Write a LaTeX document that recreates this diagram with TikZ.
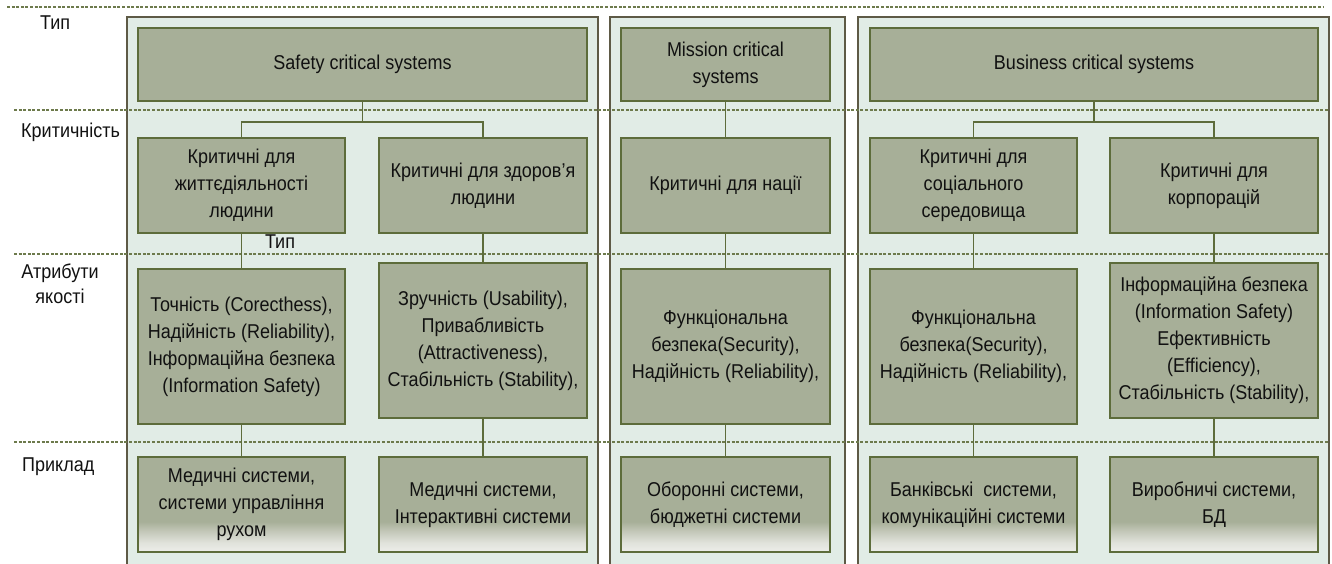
\documentclass[tikz,border=0pt]{standalone}
\usepackage{fontspec}
\setmainfont{Liberation Sans}[FakeStretch=0.9]
\usetikzlibrary{calc}

\definecolor{panelfill}{HTML}{E1ECE6}
\definecolor{paneledge}{HTML}{5E5A46}
\definecolor{boxfill}{HTML}{A7AF98}
\definecolor{boxedge}{HTML}{5D6C3B}
\definecolor{linkcol}{HTML}{5D6C3B}
\definecolor{rulecol}{HTML}{6D7A4C}
\definecolor{exlight}{HTML}{EDEEEA}
\definecolor{exsoft}{HTML}{E0E2DB}
\definecolor{exmid}{HTML}{C3C7B8}
\definecolor{inktext}{HTML}{111111}

% light fade along the lower edge of the example boxes
\pgfdeclareverticalshading{exgrad}{100bp}{color(0bp)=(exlight); color(25bp)=(exlight); color(30bp)=(exsoft); color(36bp)=(exmid); color(41bp)=(boxfill); color(100bp)=(boxfill)}

\tikzset{
  panel/.style={draw=paneledge, fill=panelfill, line width=2pt},
  rowrule/.style={draw=rulecol, line width=1.2pt, dash pattern=on 3pt off 1.6pt},
  box/.style={draw=boxedge, fill=boxfill, line width=2pt, inner sep=0pt,
    align=center, text=inktext, font=\fontsize{20}{27}\selectfont},
  exbox/.style={box, shading=exgrad},
  link/.style={draw=linkcol, line width=1.3pt},
  rowlabel/.style={text=inktext, font=\fontsize{20}{25}\selectfont, inner sep=0pt, align=center},
}

\begin{document}
\begin{tikzpicture}[x=1pt, y=-1pt]
\useasboundingbox (0,0) rectangle (1332,563);

% column panels
\path[panel] (127,17) rectangle (598,575);
\path[panel] (610,17) rectangle (845,575);
\path[panel] (858,17) rectangle (1329,575);

% row separators
\path[rowrule] (7,7) -- (1323,7);
\path[rowrule] (14,110) -- (1329,110);
\path[rowrule] (14,254) -- (1329,254);
\path[rowrule] (14,442) -- (1329,442);

% row labels
\node[rowlabel, anchor=west] (lType) at (40,23) {Тип};
\node[rowlabel, anchor=west] (lCrit) at (21,132) {Критичність};
\node[rowlabel] (lAttr) at (60,284) {Атрибути\\якості};
\node[rowlabel, anchor=west] (lEx) at (22,467) {Приклад};

% system types
\node[box, minimum width=449pt, minimum height=73pt] (safety) at (362.5,64.5) {Safety critical systems};
\node[box, minimum width=209pt, minimum height=73pt] (mission) at (725.5,64.5) {Mission critical\\systems};
\node[box, minimum width=448pt, minimum height=73pt] (business) at (1094,64.5) {Business critical systems};

% criticality
\node[box, minimum width=207pt, minimum height=95pt] (c1) at (241.5,185.5) {Критичні для\\життєдіяльності\\людини};
\node[box, minimum width=208pt, minimum height=95pt] (c2) at (483,185.5) {Критичні для здоров’я\\людини};
\node[box, minimum width=209pt, minimum height=95pt] (c3) at (725.5,185.5) {Критичні для нації};
\node[box, minimum width=207pt, minimum height=95pt] (c4) at (973.5,185.5) {Критичні для\\соціального\\середовища};
\node[box, minimum width=208pt, minimum height=95pt] (c5) at (1214,185.5) {Критичні для\\корпорацій};

\node[rowlabel] (innerType) at (280,242) {Тип};

% quality attributes
\node[box, minimum width=207pt, minimum height=155pt] (a1) at (241.5,346.5) {Точність (Corecthess),\\Надійність (Reliability),\\Інформаційна безпека\\(Information Safety)};
\node[box, minimum width=208pt, minimum height=155pt] (a2) at (483,340.5) {Зручність (Usability),\\Привабливість\\(Attractiveness),\\Стабільність (Stability),};
\node[box, minimum width=209pt, minimum height=155pt] (a3) at (725.5,346.5) {Функціональна\\безпека(Security),\\Надійність (Reliability),};
\node[box, minimum width=207pt, minimum height=155pt] (a4) at (973.5,346.5) {Функціональна\\безпека(Security),\\Надійність (Reliability),};
\node[box, minimum width=208pt, minimum height=155pt] (a5) at (1214,340.5) {Інформаційна безпека\\(Information Safety)\\Ефективність\\(Efficiency),\\Стабільність (Stability),};

% examples
\node[exbox, minimum width=207pt, minimum height=95pt] (e1) at (241.5,504.5) {Медичні системи,\\системи управління\\рухом};
\node[exbox, minimum width=208pt, minimum height=95pt] (e2) at (483,504.5) {Медичні системи,\\Інтерактивні системи};
\node[exbox, minimum width=209pt, minimum height=95pt] (e3) at (725.5,504.5) {Оборонні системи,\\бюджетні системи};
\node[exbox, minimum width=207pt, minimum height=95pt] (e4) at (973.5,504.5) {Банківські\ \ системи,\\комунікаційні системи};
\node[exbox, minimum width=208pt, minimum height=95pt] (e5) at (1214,504.5) {Виробничі системи,\\БД};

% connectors
\draw[link] (safety.south) -- ++(0,20) coordinate (sj);
\draw[link] (sj) -| (c1.north);
\draw[link] (sj) -| (c2.north);
\draw[link] (mission.south) -- (c3.north);
\draw[link] (business.south) -- ++(0,20) coordinate (bj);
\draw[link] (bj) -| (c4.north);
\draw[link] (bj) -| (c5.north);

\draw[link] (c1.south) -- (a1.north);
\draw[link] (c2.south) -- (a2.north);
\draw[link] (c3.south) -- (a3.north);
\draw[link] (c4.south) -- (a4.north);
\draw[link] (c5.south) -- (a5.north);

\draw[link] (a1.south) -- (e1.north);
\draw[link] (a2.south) -- (e2.north);
\draw[link] (a3.south) -- (e3.north);
\draw[link] (a4.south) -- (e4.north);
\draw[link] (a5.south) -- (e5.north);
\end{tikzpicture}
\end{document}
